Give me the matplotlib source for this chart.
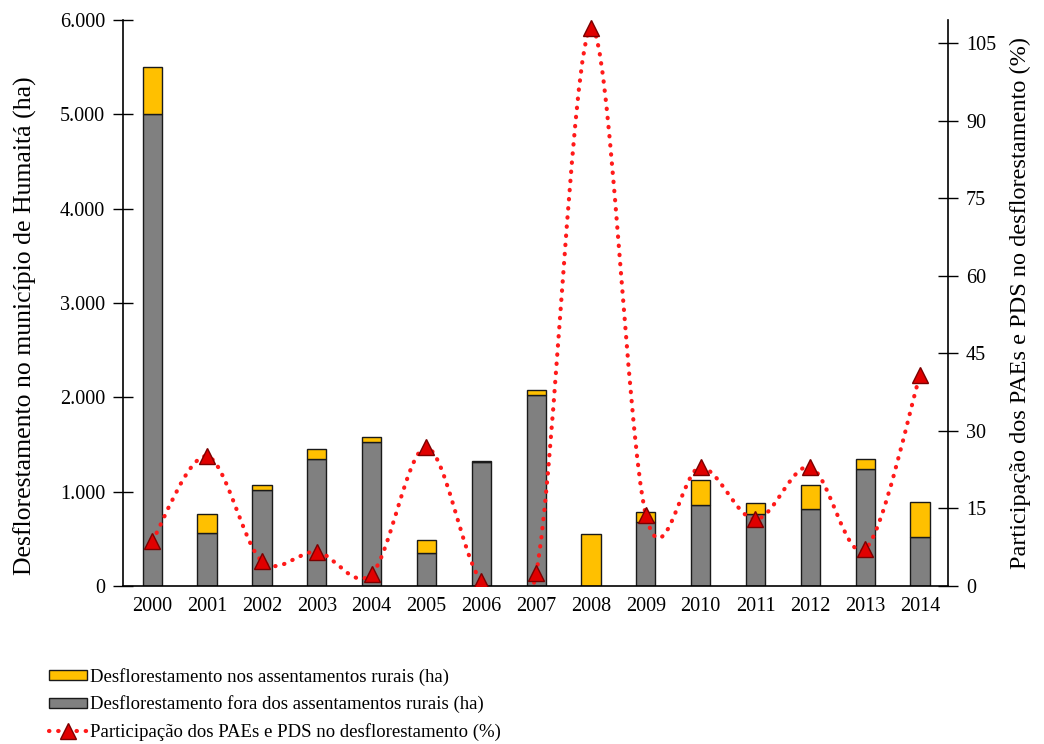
import numpy as np
import matplotlib
matplotlib.use('Agg')
import matplotlib.pyplot as plt
from matplotlib.path import Path
from matplotlib.patches import PathPatch, Patch
from matplotlib.lines import Line2D
from matplotlib.ticker import FuncFormatter

plt.rcParams['font.family'] = ['Liberation Serif', 'DejaVu Serif']

anos = ['2000', '2001', '2002', '2003', '2004', '2005', '2006', '2007',
        '2008', '2009', '2010', '2011', '2012', '2013', '2014']
fora = [5000, 560, 1015, 1345, 1530, 345, 1313, 2030,
        0, 682, 855, 762, 816, 1242, 522]          # gray, bottom
nos = [500, 200, 55, 105, 52, 143, 17, 45,
       551, 100, 265, 113, 253, 105, 366]          # yellow, top
participacao = [8.7, 25.1, 4.8, 6.6, 2.3, 26.8, 1.0, 2.5,
                107.9, 13.8, 23.0, 12.9, 23.0, 7.1, 40.8]  # %

cor_nos = '#FFC000'
cor_fora = '#808080'
cor_linha = '#FF1A1A'

fig = plt.figure(figsize=(10.44, 7.44), dpi=100)
ax = fig.add_axes([0.118, 0.2124, 0.790, 0.7606])
ax2 = ax.twinx()

x = np.arange(len(anos))
ax.bar(x, fora, width=0.35, color=cor_fora, edgecolor='#1a1a1a', linewidth=1)
ax.bar(x, nos, width=0.35, bottom=fora, color=cor_nos, edgecolor='#1a1a1a', linewidth=1)

ax.set_xlim(-0.53, 14.51)
ax.set_ylim(0, 6000)
ax.set_yticks(np.arange(0, 6001, 1000))
ax.yaxis.set_major_formatter(FuncFormatter(lambda v, p: f'{int(v):,}'.replace(',', '.')))
ax.set_xticks(x)
ax.set_xticklabels(anos)

# smoothed line (bezier segments, excel-like)
y = np.array(participacao, dtype=float)
pts = np.column_stack([x, y])
verts = [pts[0]]
codes = [Path.MOVETO]
n = len(pts)
for i in range(n - 1):
    p0 = pts[i - 1] if i > 0 else pts[i]
    p1 = pts[i]
    p2 = pts[i + 1]
    p3 = pts[i + 2] if i + 2 < n else pts[i + 1]
    c1 = p1 + (p2 - p0) / 6.0
    c2 = p2 - (p3 - p1) / 6.0
    verts += [c1, c2, p2]
    codes += [Path.CURVE4] * 3
dots = (0, (0.1, 2.1))
curva = PathPatch(Path(verts, codes), fill=False, edgecolor=cor_linha, linewidth=3.0,
                  linestyle=dots, capstyle='round', zorder=3)
ax2.add_patch(curva)
ax2.plot(x, y, linestyle='none', marker='^', markersize=11, color='#E00000',
         markeredgecolor='#7a0000', markeredgewidth=1, zorder=4)
ax2.set_ylim(0, 109.5)
ax2.set_yticks(np.arange(0, 106, 15))

for a in (ax, ax2):
    a.spines['top'].set_visible(False)
    a.tick_params(axis='y', direction='inout', length=14, width=1, labelsize=14.5, pad=6)
    a.set_facecolor('none')
ax.spines['right'].set_visible(False)
ax2.spines['left'].set_visible(False)
ax.tick_params(axis='x', length=0, labelsize=14.5, pad=8)
for s in ('left', 'bottom'):
    ax.spines[s].set_linewidth(1.2)
ax2.spines['right'].set_linewidth(1.2)
ax2.spines['bottom'].set_visible(False)

ax.set_ylabel('Desflorestamento no município de Humaitá (ha)', fontsize=18.5, labelpad=6)
ax.yaxis.set_label_coords(-0.105, 0.46)
ax2.set_ylabel('Participação dos PAEs e PDS no desflorestamento (%)', fontsize=17.5, labelpad=10)

handles = [
    Patch(facecolor=cor_nos, edgecolor='#1a1a1a', linewidth=1),
    Patch(facecolor=cor_fora, edgecolor='#1a1a1a', linewidth=1),
    Line2D([0], [0], color=cor_linha, linewidth=3.0, linestyle=dots, dash_capstyle='round',
           marker='^', markersize=11, markerfacecolor='#E00000', markeredgecolor='#7a0000'),
]
labels = ['Desflorestamento nos assentamentos rurais (ha)',
          'Desflorestamento fora dos assentamentos rurais (ha)',
          'Participação dos PAEs e PDS no desflorestamento (%)']
fig.legend(handles, labels, loc='upper left', bbox_to_anchor=(0.04, 0.112), frameon=False,
           fontsize=13.5, handlelength=2.0, handleheight=0.45, handletextpad=0.15,
           labelspacing=0.5, borderaxespad=0)

fig.savefig('out.png', dpi=100)
